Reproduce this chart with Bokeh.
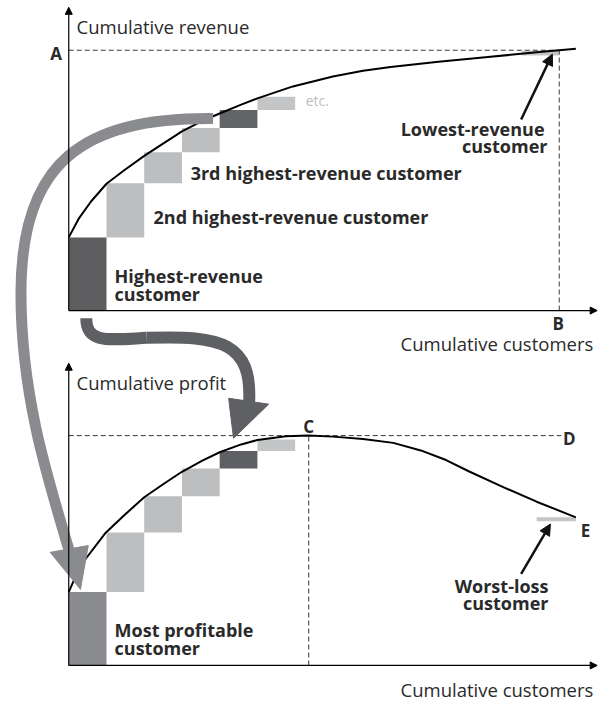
from bokeh.plotting import figure
from bokeh.models import Range1d, Arrow, NormalHead
from bokeh.core.properties import value
from bokeh.embed import file_html
from bokeh.resources import INLINE
import numpy as np

# ---------------- data (conceptual units) ----------------
n_customers = 13                 # B
revenue_total = 100.0            # A
# revenue of the highest-revenue customers (first six drawn as bars)
revenue_per_customer = [28.1, 20.8, 11.9, 9.3, 6.9, 5.1]
lowest_revenue_bar = [12.0, 13.0, 98.0, 99.8]   # left, right, bottom, top
revenue_curve_x = [0, 0.26, 0.59, 1.0, 1.47, 2.02, 2.53, 3.0, 3.54, 4.0, 4.57, 5.0,
                   5.94, 7.0, 7.8, 8.53, 9.8, 11.11, 12.4, 13.44]
revenue_curve_y = [28.1, 35.2, 41.9, 48.7, 53.9, 59.6, 64.4, 68.8, 72.9, 75.7, 79.1, 81.5,
                   86.1, 89.9, 92.1, 93.6, 95.6, 97.4, 99.2, 100.6]

profit_per_customer = [28.2, 22.9, 13.9, 10.7, 6.7, 4.4]
profit_peak_x = 6.36             # C
profit_peak = 88.3
worst_loss_bar = [12.4, 13.44, 55.4, 56.9]
profit_curve_x = [0, 0.21, 0.44, 0.98, 1.47, 2.0, 2.53, 3.0, 3.54, 4.0, 4.57, 5.0, 5.76,
                  6.36, 7.0, 7.8, 8.6, 9.33, 10.0, 10.6, 11.5, 12.4, 13.44]
profit_curve_y = [28.2, 35.2, 40.8, 51.0, 57.7, 64.6, 69.9, 74.4, 78.7, 81.9, 84.9, 86.6, 88.0,
                  88.3, 87.9, 87.0, 85.5, 82.6, 78.9, 74.6, 68.6, 62.9, 56.9]

top_bar_colors = ["#5e5e61", "#bdbec0", "#bdbec0", "#bdbec0", "#636467", "#c4c5c7"]
bot_bar_colors = ["#8b8c8f", "#bdbec0", "#bdbec0", "#bdbec0", "#5f6063", "#c4c5c7"]

# ---------------- layout ----------------
W, H = 598, 703
S = 0.975           # page scale so the whole diagram fits
PX_CUST = 38.7      # px per customer
PX_UNIT = 2.67      # px per value unit
ORIG_X = 70         # x of both y axes
TOP_Y0 = 318        # y of top x-axis
BOT_Y0 = 682        # y of bottom x-axis
XR, YB = W / S, H / S

p = figure(width=W, height=H, x_range=Range1d(0, XR), y_range=Range1d(YB, 0),
           output_backend="svg", toolbar_location=None,
           x_axis_location=None, y_axis_location=None, min_border=0)
p.outline_line_color = None
p.background_fill_color = "white"
p.border_fill_color = "white"
p.xgrid.visible = False
p.ygrid.visible = False

p.extra_x_ranges = {"cust": Range1d((0 - ORIG_X) / PX_CUST, (XR - ORIG_X) / PX_CUST)}
p.extra_y_ranges = {
    "rev": Range1d((TOP_Y0 - YB) / PX_UNIT, TOP_Y0 / PX_UNIT),
    "prof": Range1d((BOT_Y0 - YB) / PX_UNIT, BOT_Y0 / PX_UNIT),
}

FONT = value("Open Sans")
TXT = "#2a2a2a"
DASH = "#3a3a3a"

def panel(rn, y0, tip_y, heights, colors, cx, cy, extra_bar, hline, vline):
    tops = np.cumsum(heights)
    bottoms = tops - np.array(heights)
    idx = np.arange(len(heights))
    p.quad(left=idx, right=idx + 1, bottom=bottoms, top=tops, fill_color=colors,
           line_color=None, x_range_name="cust", y_range_name=rn)
    p.quad(left=[extra_bar[0]], right=[extra_bar[1]], bottom=[extra_bar[2]], top=[extra_bar[3]],
           fill_color="#c4c5c7", line_color=None, x_range_name="cust", y_range_name=rn)
    p.line(hline[0], hline[1], line_color=DASH, line_dash="5 3", line_width=1,
           x_range_name="cust", y_range_name=rn)
    p.line(vline[0], vline[1], line_color=DASH, line_dash="5 3", line_width=1,
           x_range_name="cust", y_range_name=rn)
    p.line(cx, cy, line_color="black", line_width=2, line_join="round",
           x_range_name="cust", y_range_name=rn)
    ytop = (y0 - tip_y) / PX_UNIT
    xend = (612 - ORIG_X) / PX_CUST
    p.add_layout(Arrow(end=NormalHead(size=7, fill_color="black", line_color="black"),
                       x_start=0, y_start=0, x_end=0, y_end=ytop, line_width=1.2,
                       x_range_name="cust", y_range_name=rn))
    p.add_layout(Arrow(end=NormalHead(size=7, fill_color="black", line_color="black"),
                       x_start=0, y_start=0, x_end=xend, y_end=0, line_width=1.2,
                       x_range_name="cust", y_range_name=rn))

panel("rev", TOP_Y0, 7, revenue_per_customer, top_bar_colors, revenue_curve_x, revenue_curve_y,
      lowest_revenue_bar,
      ([0, n_customers], [revenue_total, revenue_total]),
      ([n_customers, n_customers], [0, revenue_total]))
panel("prof", BOT_Y0, 372, profit_per_customer, bot_bar_colors, profit_curve_x, profit_curve_y,
      worst_loss_bar,
      ([0, n_customers + 0.05], [profit_peak, profit_peak]),
      ([profit_peak_x, profit_peak_x], [0, profit_peak]))

# ---------------- big curved arrows ----------------
MID = "#8a8b8e"
DARK = "#5f6063"
p.bezier(x0=[218, 21], y0=[121, 300], x1=[21, 71], y1=[300, 566],
         cx0=[85, 21], cy0=[120, 400], cx1=[21, 45], cy1=[165, 480],
         line_color=MID, line_width=11, line_cap="butt")
p.patch([51, 90, 82], [566, 559, 604], fill_color=MID, line_color=MID)

p.bezier(x0=[88, 150], y0=[326, 346], x1=[150, 255], y1=[346, 412],
         cx0=[88, 228], cy0=[352, 343], cx1=[110, 258], cy1=[348, 352],
         line_color=DARK, line_width=12, line_cap="butt")
p.patch([234, 275, 239], [408, 414, 449], fill_color=DARK, line_color=DARK)

# pointer arrows
for xs, ys, xe, ye in [(534, 122, 566, 55), (534, 588, 564, 537)]:
    p.add_layout(Arrow(end=NormalHead(size=11, fill_color="#111", line_color="#111"),
                       x_start=xs, y_start=ys, x_end=xe, y_end=ye,
                       line_width=2.5, line_color="#111"))

# ---------------- texts ----------------
def txt(x, y, s, align="left", size="17px", style="normal", color=TXT):
    p.text(x=[x], y=[y], text=[s], text_font=FONT, text_font_size=size,
           text_font_style=style, text_color=color, text_align=align,
           text_baseline="middle")

axis_titles = [(78, 27, "Cumulative revenue", "left"),
               (608, 352, "Cumulative customers", "right"),
               (78, 392, "Cumulative profit", "left"),
               (608, 707, "Cumulative customers", "right")]
for x, y, s, a in axis_titles:
    txt(x, y, s, a, "18.5px")

letters = [(57, 54, "A", "center"), (572, 331, "B", "center"), (316, 437, "C", "center"),
           (577, 449, "D", "left"), (600, 544, "E", "center")]
for x, y, s, a in letters:
    txt(x, y, s, a, "17px", "bold")

labels = [(195, 177, "3rd highest-revenue customer", "left"),
          (157, 222, "2nd highest-revenue customer", "left"),
          (117, 283, "Highest-revenue", "left"),
          (117, 301, "customer", "left"),
          (558, 132, "Lowest-revenue", "right"),
          (561, 149, "customer", "right"),
          (562, 601, "Worst-loss", "right"),
          (562, 618, "customer", "right"),
          (117, 646, "Most profitable", "left"),
          (117, 664, "customer", "left")]
for x, y, s, a in labels:
    txt(x, y, s, a, "18px", "bold")

txt(313, 103, "etc.", "left", "14px", "normal", "#bdbec0")

open("out.html", "w").write(file_html(p, INLINE))
